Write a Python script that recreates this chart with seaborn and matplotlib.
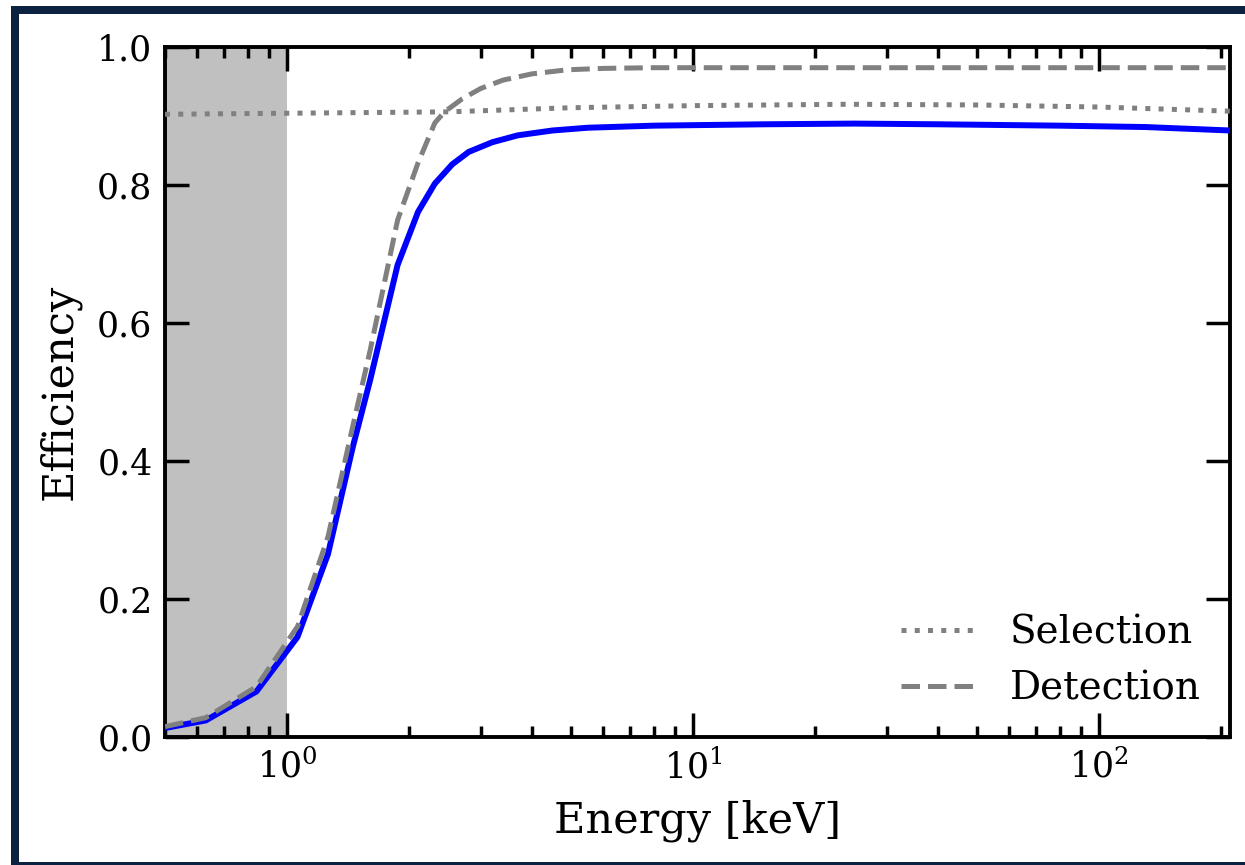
import matplotlib
matplotlib.use("Agg")
import matplotlib.pyplot as plt
import seaborn as sns
import pandas as pd
from matplotlib.patches import Rectangle
from matplotlib.ticker import LogLocator, NullFormatter

# Data
energy_total = [0.5, 0.63, 0.84, 1.06, 1.26, 1.45, 1.6, 1.87, 2.1, 2.31, 2.55, 2.8,
                3.2, 3.7, 4.5, 5.5, 8, 15, 25, 40, 80, 130, 210]
eff_total = [0.013, 0.024, 0.066, 0.145, 0.265, 0.42, 0.517, 0.684, 0.761, 0.802, 0.83, 0.848,
             0.862, 0.872, 0.879, 0.883, 0.886, 0.888, 0.889, 0.888, 0.886, 0.884, 0.879]

energy_sel = [0.5, 1.0, 2.5, 5, 10, 24, 50, 100, 210]
eff_sel = [0.9025, 0.904, 0.906, 0.912, 0.915, 0.917, 0.916, 0.913, 0.907]

energy_det = [0.5, 0.63, 0.84, 1.06, 1.26, 1.45, 1.6, 1.87, 2.1, 2.31, 2.44, 2.7,
              3.0, 3.4, 4.0, 4.9, 6.0, 8, 15, 50, 210]
eff_det = [0.015, 0.028, 0.073, 0.16, 0.29, 0.45, 0.56, 0.749, 0.832, 0.89, 0.906, 0.925,
           0.94, 0.952, 0.961, 0.967, 0.969, 0.97, 0.97, 0.97, 0.97]

threshold = [0.5, 1.0]
xlim = [0.5, 210]
ylim = [0.0, 1.0]

df_total = pd.DataFrame({"Energy": energy_total, "Efficiency": eff_total})
df_sel = pd.DataFrame({"Energy": energy_sel, "Efficiency": eff_sel})
df_det = pd.DataFrame({"Energy": energy_det, "Efficiency": eff_det})

sns.set_style("ticks")
plt.rcParams["font.family"] = ["DejaVu Serif"]
plt.rcParams["mathtext.fontset"] = "dejavuserif"
plt.rcParams["text.color"] = "black"
plt.rcParams["axes.labelcolor"] = "black"
plt.rcParams["xtick.color"] = "black"
plt.rcParams["ytick.color"] = "black"

fig = plt.figure(figsize=(12.45, 8.65), dpi=100)
ax = fig.add_axes([165 / 1245, 128 / 865, (1230 - 165) / 1245, (737 - 47) / 865])

ax.axvspan(threshold[0], threshold[1], color="#c0c0c0", lw=0, zorder=0)

sns.lineplot(data=df_total, x="Energy", y="Efficiency", ax=ax, color="#0000ff",
             linewidth=4.3, zorder=3)
sns.lineplot(data=df_sel, x="Energy", y="Efficiency", ax=ax, color="gray",
             linewidth=3.6, linestyle=":", label="Selection", zorder=4)
sns.lineplot(data=df_det, x="Energy", y="Efficiency", ax=ax, color="gray",
             linewidth=3.6, linestyle="--", label="Detection", zorder=4)

ax.set_xscale("log")
ax.set_xlim(*xlim)
ax.set_ylim(*ylim)
ax.set_yticks([0.0, 0.2, 0.4, 0.6, 0.8, 1.0])
ax.set_yticklabels(["0.0", "0.2", "0.4", "0.6", "0.8", "1.0"])
ax.xaxis.set_minor_locator(LogLocator(base=10, subs=range(2, 10), numticks=20))
ax.xaxis.set_minor_formatter(NullFormatter())

ax.set_xlabel("Energy [keV]", fontsize=31, labelpad=10)
ax.set_ylabel("Efficiency", fontsize=31, labelpad=12)

ax.tick_params(which="both", direction="in", top=True, right=True, width=2.5, colors="black")
ax.tick_params(which="major", length=17, labelsize=25, pad=9)
ax.tick_params(which="minor", length=8)
for s in ax.spines.values():
    s.set_linewidth(2.8)
    s.set_color("black")

leg = ax.legend(loc="lower right", frameon=False, fontsize=28, handlelength=2.0,
                handletextpad=0.8, labelspacing=0.5, borderaxespad=0.35)

fig.add_artist(Rectangle((14.5 / 1245, -1 / 865), (1250 - 14.5) / 1245, (855 + 1) / 865,
                         transform=fig.transFigure, fill=False, edgecolor="#0b2340",
                         lw=8 * 72 / 100, clip_on=False))

fig.savefig("out.png", dpi=100, facecolor="white")
